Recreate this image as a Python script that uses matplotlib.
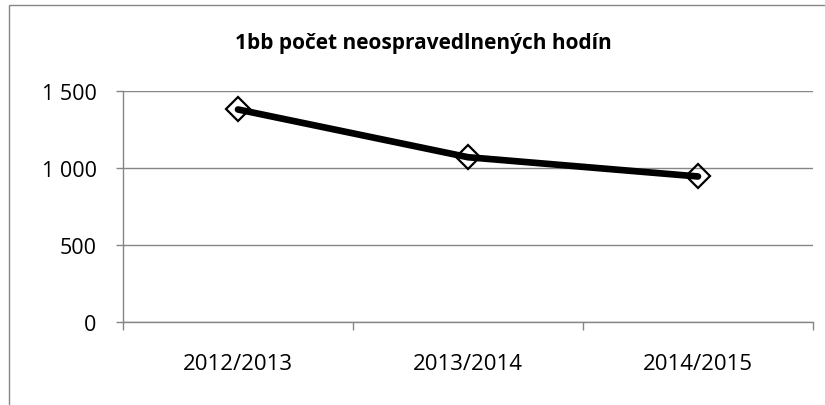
#!/usr/bin/env python

import matplotlib
matplotlib.use('Agg')
import matplotlib.pyplot as plt
from matplotlib.patches import Rectangle
from matplotlib.ticker import FuncFormatter, FixedLocator

# Data
years = ['2012/2013', '2013/2014', '2014/2015']
hours = [1380, 1070, 945]

title = '1bb počet neospravedlnených hodín'
y_ticks = [0, 500, 1000, 1500]

plt.rcParams['font.family'] = ['Open Sans', 'DejaVu Sans']

W, H = 825, 406


def main():
    fig = plt.figure(figsize=(W / 100, H / 100), dpi=100)

    # Outer chart frame
    fig.patches.append(Rectangle((9 / W, -0.01), 1.1, (H - 6) / H + 0.01,
                                 transform=fig.transFigure, fill=False,
                                 edgecolor='#868686', linewidth=1.0))

    ax = fig.add_axes([123 / W, (H - 323) / H, (813 - 123) / W, (323 - 92) / H])

    x = list(range(len(years)))
    ax.plot(x, hours, color='black', linewidth=4.8, solid_capstyle='round',
            zorder=3)
    ax.plot(x, hours, linestyle='none', marker='D', markersize=12,
            markerfacecolor='none', markeredgecolor='black',
            markeredgewidth=1.6, zorder=4)

    ax.set_xlim(-0.5, len(years) - 0.5)
    ax.set_ylim(0, 1500)

    ax.set_yticks(y_ticks)
    ax.yaxis.set_major_formatter(
        FuncFormatter(lambda v, p: f'{int(v):,}'.replace(',', ' ')))
    ax.yaxis.grid(True, color='#868686', linewidth=1.0)
    ax.set_axisbelow(True)

    ax.set_xticks(x)
    ax.set_xticklabels(years)
    ax.xaxis.set_minor_locator(FixedLocator([i - 0.5 for i in range(len(years) + 1)]))
    ax.tick_params(axis='x', which='major', length=0, pad=22, labelsize=16)
    ax.tick_params(axis='x', which='minor', length=6, width=1.0,
                   color='#868686', direction='out')
    ax.tick_params(axis='y', length=5, width=1.0, color='#868686',
                   direction='out', pad=14, labelsize=15.5)

    for side in ['top', 'right']:
        ax.spines[side].set_visible(False)
    for side in ['left', 'bottom']:
        ax.spines[side].set_color('#868686')
        ax.spines[side].set_linewidth(1.0)

    fig.text(423 / W, (H - 44) / H, title, ha='center', va='center',
             fontsize=15, fontweight='bold')

    fig.savefig('out.png', dpi=100)


if __name__ == '__main__':
    main()
